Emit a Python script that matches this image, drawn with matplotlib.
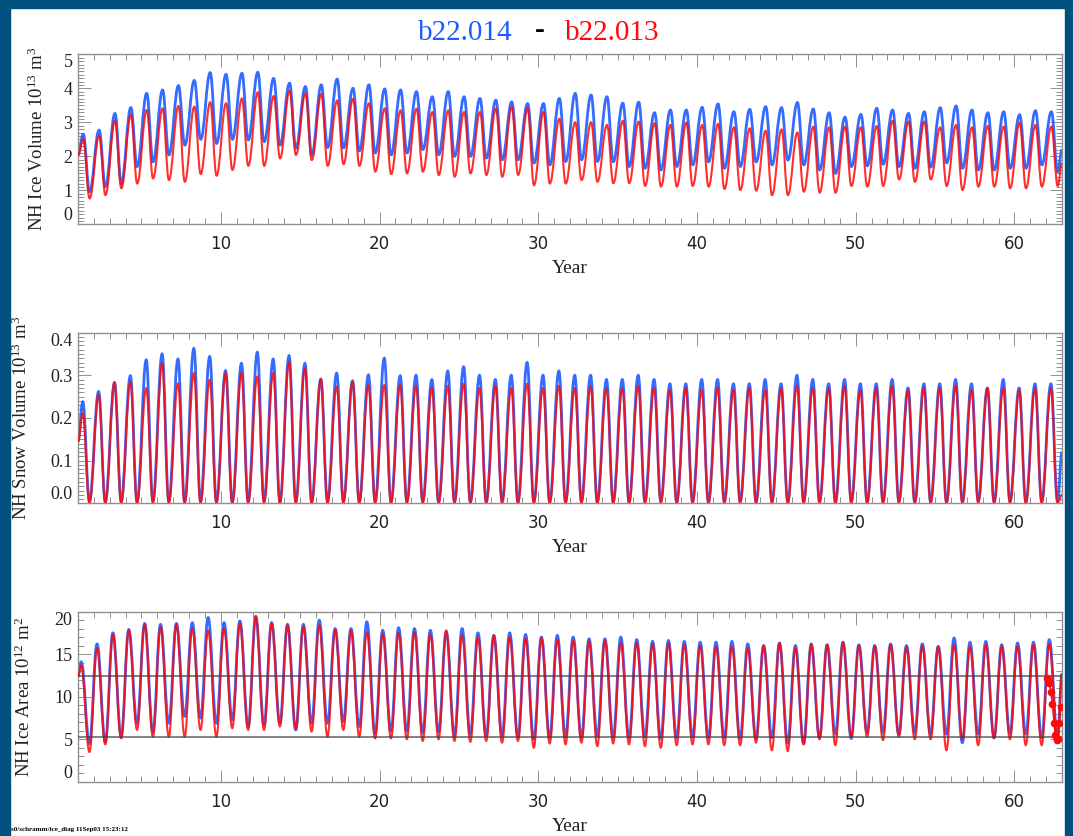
import numpy as np
import matplotlib
matplotlib.use("Agg")
import matplotlib.pyplot as plt
from matplotlib.path import Path
from matplotlib.patches import PathPatch, Rectangle
from matplotlib.ticker import MultipleLocator

years = np.arange(1, 63)

# ---- NH ice volume (10^13 m^3): seasonal max / min per year ----
vol_b_max = [2.65, 2.77, 3.26, 3.43, 3.85, 3.95, 4.08, 4.23, 4.46, 4.41,
             4.44, 4.47, 4.29, 4.15, 4.05, 4.10, 4.27, 4.00, 4.10, 3.98,
             3.95, 3.90, 3.75, 3.90, 3.75, 3.70, 3.65, 3.60, 3.55, 3.55,
             3.70, 3.85, 3.80, 3.75, 3.56, 3.59, 3.28, 3.36, 3.36, 3.44,
             3.54, 3.31, 3.38, 3.46, 3.43, 3.58, 3.39, 3.28, 3.15, 3.23,
             3.41, 3.36, 3.26, 3.31, 3.43, 3.48, 3.36, 3.28, 3.31, 3.22,
             3.34, 3.31]
vol_b_min = [0.96, 1.11, 1.20, 1.70, 1.84, 2.04, 2.33, 2.50, 2.38, 2.50,
             2.48, 2.43, 2.33, 2.24, 2.04, 2.26, 2.25, 2.16, 2.10, 2.04,
             2.10, 2.20, 2.05, 2.00, 2.00, 1.95, 1.90, 1.90, 1.80, 1.75,
             1.85, 1.90, 1.85, 1.84, 1.70, 1.65, 1.60, 1.70, 1.75, 1.84,
             1.65, 1.70, 1.84, 1.75, 1.89, 1.75, 1.60, 1.50, 1.70, 1.72,
             1.77, 1.70, 1.65, 1.68, 1.81, 1.65, 1.60, 1.60, 1.65, 1.65,
             1.75, 1.55]
vol_r_max = [2.50, 2.61, 3.05, 3.22, 3.36, 3.41, 3.48, 3.46, 3.59, 3.56,
             3.70, 3.88, 3.77, 3.93, 3.85, 3.83, 3.64, 3.69, 3.56, 3.41,
             3.35, 3.40, 3.30, 3.35, 3.30, 3.30, 3.40, 3.45, 3.40, 3.30,
             3.10, 3.00, 3.00, 2.92, 3.04, 3.02, 2.97, 2.92, 2.99, 2.92,
             2.95, 2.85, 2.82, 2.75, 2.79, 2.70, 2.87, 2.85, 2.87, 2.85,
             2.89, 3.04, 3.02, 3.02, 2.85, 2.92, 2.85, 2.89, 2.87, 2.99,
             2.92, 2.87]
vol_r_min = [0.76, 0.86, 1.06, 1.20, 1.35, 1.30, 1.25, 1.48, 1.43, 1.60,
             1.72, 1.72, 1.94, 2.04, 1.89, 1.72, 1.77, 1.72, 1.55, 1.48,
             1.50, 1.55, 1.45, 1.40, 1.50, 1.45, 1.40, 1.45, 1.15, 1.20,
             1.20, 1.30, 1.25, 1.21, 1.21, 1.13, 1.11, 1.11, 1.13, 1.11,
             1.04, 1.01, 0.99, 0.86, 0.86, 0.96, 0.93, 0.93, 1.13, 1.11,
             1.13, 1.32, 1.25, 1.32, 1.13, 1.01, 1.11, 1.11, 1.06, 1.06,
             1.11, 1.13]
vol_ends = {"b": (2.04, 2.19), "r": (2.04, 1.79)}

# ---- NH snow volume (10^13 m^3) ----
snow_b_max = [0.238, 0.262, 0.283, 0.299, 0.336, 0.350, 0.338, 0.363, 0.344, 0.311,
              0.328, 0.354, 0.338, 0.346, 0.328, 0.291, 0.305, 0.287, 0.301, 0.340,
              0.299, 0.300, 0.290, 0.310, 0.320, 0.300, 0.290, 0.300, 0.330, 0.300,
              0.310, 0.300, 0.300, 0.290, 0.290, 0.300, 0.290, 0.280, 0.280, 0.290,
              0.290, 0.280, 0.280, 0.290, 0.280, 0.300, 0.290, 0.280, 0.290, 0.280,
              0.280, 0.290, 0.270, 0.280, 0.280, 0.290, 0.280, 0.270, 0.290, 0.270,
              0.280, 0.280]
snow_b_min = [0.006, 0.004, 0.005, 0.004, 0.006, 0.005, 0.004, 0.006, 0.005, 0.004,
              0.005, 0.006, 0.004, 0.005, 0.004, 0.005, 0.006, 0.004, 0.005, 0.004,
              0.005, 0.006, 0.004, 0.005, 0.004, 0.005, 0.006, 0.004, 0.005, 0.004,
              0.005, 0.006, 0.004, 0.005, 0.004, 0.005, 0.006, 0.004, 0.005, 0.004,
              0.005, 0.006, 0.004, 0.005, 0.004, 0.005, 0.006, 0.004, 0.005, 0.004,
              0.005, 0.006, 0.004, 0.005, 0.004, 0.005, 0.006, 0.004, 0.005, 0.004,
              0.005, 0.005]
snow_r_max = [0.211, 0.254, 0.283, 0.285, 0.270, 0.328, 0.281, 0.305, 0.289, 0.305,
              0.305, 0.297, 0.305, 0.332, 0.317, 0.291, 0.274, 0.285, 0.277, 0.277,
              0.277, 0.275, 0.270, 0.275, 0.280, 0.270, 0.275, 0.270, 0.280, 0.270,
              0.275, 0.270, 0.275, 0.270, 0.270, 0.275, 0.270, 0.265, 0.270, 0.265,
              0.270, 0.265, 0.270, 0.265, 0.270, 0.275, 0.270, 0.270, 0.275, 0.265,
              0.270, 0.275, 0.265, 0.270, 0.270, 0.275, 0.265, 0.270, 0.270, 0.265,
              0.270, 0.270]
snow_r_min = [0.000, 0.000, 0.000, 0.000, 0.000, 0.000, 0.000, 0.000, 0.000, 0.000,
              0.000, 0.000, 0.000, 0.000, 0.000, 0.000, 0.000, 0.000, 0.000, 0.000,
              0.000, 0.000, 0.000, 0.000, 0.000, 0.000, 0.000, 0.000, 0.000, 0.000,
              0.000, 0.000, 0.000, 0.000, 0.000, 0.000, 0.000, 0.000, 0.000, 0.000,
              0.000, 0.000, 0.000, 0.000, 0.000, 0.000, 0.000, 0.000, 0.000, 0.000,
              0.000, 0.000, 0.000, 0.000, 0.000, 0.000, 0.000, 0.000, 0.000, 0.000,
              0.000, 0.000]
snow_ends = {"b": (0.145, 0.12), "r": (0.145, 0.02)}

# ---- NH ice area (10^12 m^2) ----
area_b_max = [14.1, 16.2, 17.5, 17.9, 18.6, 18.5, 18.6, 18.7, 19.3, 18.7,
              18.9, 19.4, 18.7, 18.5, 18.5, 19.0, 18.0, 18.0, 18.8, 17.8,
              18.1, 18.0, 17.8, 17.6, 18.0, 17.5, 17.2, 17.5, 17.3, 17.0,
              17.2, 17.0, 16.8, 16.8, 17.0, 16.7, 16.5, 16.6, 16.5, 16.4,
              16.4, 16.5, 16.2, 16.0, 16.3, 16.0, 16.2, 16.1, 16.4, 16.1,
              16.0, 16.2, 16.0, 16.2, 15.9, 16.9, 16.4, 16.5, 16.1, 16.3,
              16.4, 16.7]
area_b_min = [4.5, 4.7, 5.3, 6.9, 5.9, 6.9, 7.7, 7.5, 6.9, 7.3,
              6.5, 6.7, 6.9, 6.1, 6.9, 6.9, 7.1, 6.5, 5.7, 6.0,
              6.0, 5.8, 5.9, 5.5, 5.6, 5.4, 5.5, 5.3, 5.0, 5.2,
              5.3, 5.2, 5.4, 5.3, 5.2, 5.3, 5.1, 5.2, 5.3, 5.2,
              5.2, 5.1, 5.1, 5.2, 4.6, 4.5, 5.2, 5.6, 5.1, 5.8,
              5.8, 5.6, 5.8, 5.6, 5.6, 4.6, 5.6, 5.2, 5.7, 5.6,
              5.2, 5.2]
area_r_max = [13.7, 15.7, 17.3, 17.8, 18.5, 18.2, 18.5, 18.0, 17.8, 18.0,
              18.6, 19.5, 18.6, 18.4, 18.2, 18.4, 17.9, 17.8, 17.6, 17.4,
              17.5, 17.6, 17.3, 17.8, 17.2, 17.0, 17.2, 17.0, 16.8, 16.9,
              16.7, 16.6, 16.5, 16.6, 16.3, 16.4, 16.2, 16.3, 16.1, 16.0,
              15.9, 15.9, 15.7, 16.0, 16.3, 15.7, 16.1, 16.1, 16.4, 16.0,
              16.0, 16.1, 15.8, 16.0, 15.9, 16.1, 15.9, 16.1, 15.9, 15.9,
              16.1, 16.2]
area_r_min = [3.5, 4.4, 5.1, 6.1, 5.3, 5.3, 5.3, 6.1, 5.3, 6.3,
              6.1, 6.1, 6.5, 6.2, 5.9, 5.3, 6.1, 5.3, 5.1, 5.1,
              5.0, 4.8, 5.0, 4.8, 4.7, 4.8, 4.6, 4.8, 4.0, 4.5,
              4.4, 4.6, 4.2, 4.5, 4.4, 4.2, 4.0, 4.3, 4.4, 4.4,
              4.3, 4.3, 4.6, 3.7, 3.6, 4.4, 5.0, 4.3, 5.3, 5.3,
              4.9, 5.3, 5.0, 5.0, 3.7, 5.0, 4.3, 5.1, 5.0, 4.3,
              4.3, 4.9]
area_ends = {"b": (12.4, 12.7), "r": (12.4, 12.7)}
# observed monthly points plotted at the end of the record
obs_x = [62.05, 62.12, 62.20, 62.30, 62.40, 62.50, 62.58, 62.66, 62.74, 62.82, 62.92]
obs_y = [12.2, 12.0, 11.6, 10.6, 9.2, 6.9, 5.5, 4.9, 5.0, 6.9, 8.8]
obs_lines = [12.4, 5.3]

BLUE = "#1f5cff"
RED = "#ff0a0a"
NAVY = "#005080"


def cycle_path(ymax, ymin, ends, pk, tr, k=0.4):
    xs = [1.0]
    ys = [ends[0]]
    for yr, hi, lo in zip(years, ymax, ymin):
        xs += [yr + pk, yr + tr]
        ys += [hi, lo]
    xs.append(63.0)
    ys.append(ends[1])
    verts = [(xs[0], ys[0])]
    codes = [Path.MOVETO]
    for i in range(len(xs) - 1):
        dx = xs[i + 1] - xs[i]
        verts += [(xs[i] + k * dx, ys[i]), (xs[i + 1] - k * dx, ys[i + 1]),
                  (xs[i + 1], ys[i + 1])]
        codes += [Path.CURVE4] * 3
    return Path(verts, codes)


fig = plt.figure(figsize=(10.73, 8.36), dpi=100)
fig.patch.set_facecolor("white")
W, H = 1073.0, 836.0

# navy frame
fig.add_artist(Rectangle((0, 0), 10 / W, 1, transform=fig.transFigure, color=NAVY, zorder=0))
fig.add_artist(Rectangle((0, 1 - 8 / H), 1, 8 / H, transform=fig.transFigure, color=NAVY, zorder=0))
fig.add_artist(Rectangle((1 - 8 / W, 0), 8 / W, 1, transform=fig.transFigure, color=NAVY, zorder=0))

serif = "Liberation Serif"
panels = [
    dict(top=54.3, bot=224.3, ylim=(0, 5), major=1, minor=0.1, fmt="{:.0f}",
         label="NH Ice Volume 10$^{13}$ m$^3$", labx=47,
         data=(vol_b_max, vol_b_min, vol_r_max, vol_r_min, vol_ends), pk=0.33, tr=0.73),
    dict(top=332.7, bot=503.3, ylim=(0, 0.4), major=0.1, minor=0.01, fmt="{:.1f}",
         label="NH Snow Volume 10$^{13}$ m$^3$", labx=31,
         data=(snow_b_max, snow_b_min, snow_r_max, snow_r_min, snow_ends), pk=0.3, tr=0.72),
    dict(top=611.7, bot=781.7, ylim=(0, 20), major=5, minor=1, fmt="{:.0f}",
         label="NH Ice Area 10$^{12}$ m$^2$", labx=34,
         data=(area_b_max, area_b_min, area_r_max, area_r_min, area_ends), pk=0.2, tr=0.72),
]

plt.rcParams["mathtext.fontset"] = "custom"
plt.rcParams["mathtext.rm"] = serif
plt.rcParams["mathtext.it"] = serif

for i, p in enumerate(panels):
    ax = fig.add_axes([78 / W, 1 - p["bot"] / H, (1062 - 78) / W, (p["bot"] - p["top"]) / H])
    bmax, bmin, rmax, rmin, ends = p["data"]
    if i == 2:
        for v in obs_lines:
            ax.axhline(v, color="#404040", lw=1.3, alpha=0.7, zorder=4)
    ax.add_patch(PathPatch(cycle_path(bmax, bmin, ends["b"], p["pk"], p["tr"]),
                           fill=False, ec=BLUE, lw=2.0, alpha=0.9, zorder=2))
    ax.add_patch(PathPatch(cycle_path(rmax, rmin, ends["r"], p["pk"], p["tr"]),
                           fill=False, ec=RED, lw=1.5, alpha=0.85, zorder=3))
    if i == 2:
        ax.plot(obs_x, obs_y, color=RED, lw=1.2, marker="o", ms=4.5, zorder=5)
    ax.set_xlim(1, 63)
    ax.set_ylim(*p["ylim"])
    ax.xaxis.set_major_locator(MultipleLocator(10))
    ax.xaxis.set_minor_locator(MultipleLocator(1))
    ax.yaxis.set_major_locator(MultipleLocator(p["major"]))
    ax.yaxis.set_minor_locator(MultipleLocator(p["minor"]))
    ax.tick_params(which="both", direction="in", top=True, right=True, color="#909090", width=0.7)
    ax.tick_params(which="major", length=9)
    ax.tick_params(which="minor", length=4)
    ax.tick_params(axis="x", labelsize=12, pad=8, labelcolor="#222222")
    ax.tick_params(axis="y", labelsize=13, pad=4, labelcolor="#222222")
    yt = ax.get_yticks()
    yt = [t for t in yt if p["ylim"][0] - 1e-9 <= t <= p["ylim"][1] + 1e-9]
    ax.set_yticks(yt)
    ax.set_yticklabels([p["fmt"].format(t) for t in yt], family=serif)
    ylabs = ax.get_yticklabels()
    ylabs[0].set_va("bottom")
    ylabs[-1].set_va("top")
    for s in ax.spines.values():
        s.set_color("#909090")
        s.set_linewidth(1.0)
    ax.set_ylabel(p["label"], family=serif, fontsize=13.5, color="#222222")
    ax.yaxis.set_label_coords((p["labx"] - 78) / 984.0, 0.5)
    ax.set_xlabel("Year", family=serif, fontsize=14, color="#222222", labelpad=5)

# title in two colours
fig.text(465 / W, 1 - 33 / H, "b22.014", color=BLUE, family=serif, fontsize=21, ha="center", va="center")
fig.text(540 / W, 1 - 31 / H, "-", color="black", family=serif, fontsize=21, ha="center", va="center", weight="bold")
fig.text(612 / W, 1 - 33 / H, "b22.013", color=RED, family=serif, fontsize=21, ha="center", va="center")

fig.text(11 / W, 1 - 829 / H, "s0/schramm/ice_diag 11Sep03 15:23:12", family=serif,
         fontsize=5, weight="bold", ha="left", va="center", color="black")

fig.savefig("out.png", dpi=100, facecolor="white")
